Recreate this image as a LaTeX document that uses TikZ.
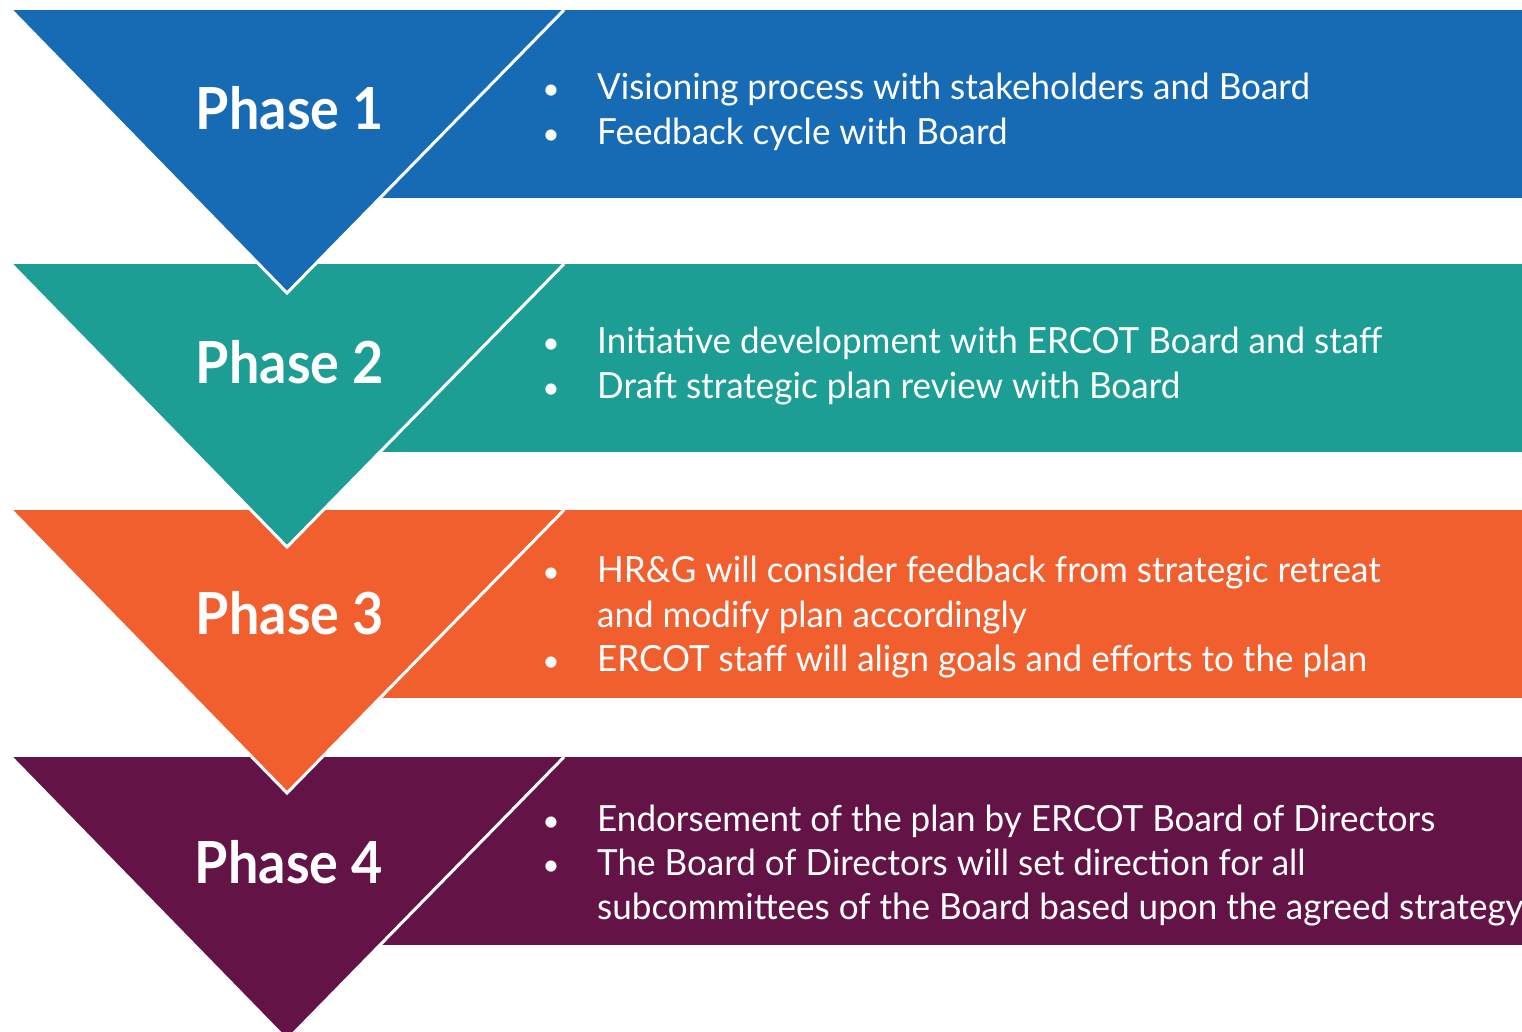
\documentclass[tikz,border=0pt]{standalone}
\usepackage{fontspec}
\setmainfont{Lato}
\newfontfamily\bodyfont[FakeStretch=0.973]{Lato}
\newfontfamily\phasefont[FakeStretch=0.93]{Lato}
\definecolor{cblue}{HTML}{176BB5}
\definecolor{cteal}{HTML}{1D9E94}
\definecolor{corange}{HTML}{F15F2F}
\definecolor{cpurple}{HTML}{641346}
\tikzset{
  phaselabel/.style={text=white,font=\phasefont\fontsize{58}{60}\selectfont\bfseries,inner sep=0pt},
  bullettext/.style={text=white,font=\bodyfont\fontsize{36}{40}\selectfont,inner sep=0pt,anchor=base west},
  bulletdot/.style={text=white,font=\fontsize{30}{30}\selectfont,inner sep=0pt,anchor=base},
  sepline/.style={draw=white,line width=3pt}
}
\begin{document}
\begin{tikzpicture}[x=1pt,y=-1pt]
\useasboundingbox (0,0) rectangle (1522,1031);
% phase shapes drawn bottom-up so that each apex overlaps the next band
\foreach \top/\col in {757/cpurple,510/corange,264/cteal,10/cblue}{
  \fill[\col] (380,\top) rectangle (1522,\top+188);
  \fill[\col] (11,\top) -- (564,\top) -- (287,\top+283) -- cycle;
  \draw[sepline,line join=miter] (564,\top) -- (287,\top+283) -- (11,\top);
}
\node[phaselabel] (p1) at (290,108) {Phase 1};
\node[phaselabel] (p2) at (290,362) {Phase 2};
\node[phaselabel] (p3) at (290,613) {Phase 3};
\node[phaselabel] (p4) at (289,862) {Phase 4};
% phase 1
\node[bulletdot] (b11) at (551,99) {•};
\node[bullettext] (t11) at (597,99) {Visioning process with stakeholders and Board};
\node[bulletdot] (b12) at (551,144) {•};
\node[bullettext] (t12) at (597,144) {Feedback cycle with Board};
% phase 2
\node[bulletdot] (b21) at (551,353) {•};
\node[bullettext] (t21) at (597,353) {Initiative development with ERCOT Board and staff};
\node[bulletdot] (b22) at (551,398) {•};
\node[bullettext] (t22) at (597,398) {Draft strategic plan review with Board};
% phase 3
\node[bulletdot] (b31) at (551,582) {•};
\node[bullettext] (t31) at (597,582) {HR\&G will consider feedback from strategic retreat};
\node[bullettext] (t32) at (597,627) {and modify plan accordingly};
\node[bulletdot] (b32) at (551,671) {•};
\node[bullettext] (t33) at (597,671) {ERCOT staff will align goals and efforts to the plan};
% phase 4
\node[bulletdot] (b41) at (551,831) {•};
\node[bullettext] (t41) at (597,831) {Endorsement of the plan by ERCOT Board of Directors};
\node[bulletdot] (b42) at (551,875) {•};
\node[bullettext] (t42) at (597,875) {The Board of Directors will set direction for all};
\node[bullettext] (t43) at (597,919) {subcommittees of the Board based upon the agreed strategy};
\end{tikzpicture}
\end{document}
